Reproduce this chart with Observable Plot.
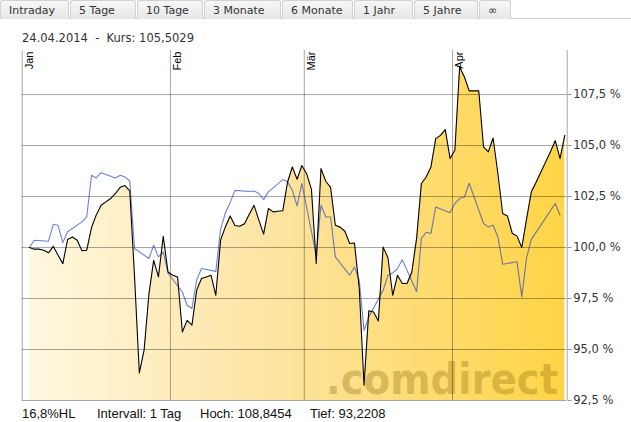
<!DOCTYPE html>
<html><head><meta charset="utf-8">
<script src="https://cdn.jsdelivr.net/npm/d3@7"></script>
<script src="https://cdn.jsdelivr.net/npm/@observablehq/plot@0.6"></script>
<style>
body{margin:0;width:631px;height:422px;overflow:hidden;background:#fff;position:relative;font-family:"DejaVu Sans",Verdana,sans-serif}
#tabline{position:absolute;left:0;top:18px;width:631px;height:1px;background:#cfcfcf}
.tab{position:absolute;top:0;height:19px;line-height:19px;font-size:11px;color:#333;padding-left:8px;box-sizing:border-box;background:linear-gradient(#f7f7f7,#e6e6e6);border:1px solid #d2d2d2;border-bottom:none;border-radius:3px 3px 0 0}
#head{position:absolute;left:22px;top:31px;font-size:11.5px;color:#333;white-space:pre}
#foot{position:absolute;top:406px;left:0;font-family:"Liberation Sans",Arial,sans-serif;font-size:13px;color:#111}
#foot span{position:absolute;white-space:nowrap}
#chart{position:absolute;left:0;top:44px}
</style>
</head><body>
<div id="tabline"></div>
<div id="tabs"></div>
<div id="head"></div>
<div id="chart"></div>
<div id="foot"></div>
<script>
// ---- data ----
const tabLabels = ["Intraday", "5 Tage", "10 Tage", "3 Monate", "6 Monate", "1 Jahr", "5 Jahre", "\u221e"];
const headerText = "24.04.2014  -  Kurs: 105,5029";
const footerTexts = ["16,8%HL", "Intervall: 1 Tag", "Hoch: 108,8454", "Tief: 93,2208"];

// fund (black line + area), one value per calendar day starting 2014-01-02
const fundStart = "2014-01-02";
const fundJan = [100.00, 99.92, 99.92, 99.87, 99.74, 100.06, 99.62, 99.21, 100.39, 100.52, 100.36, 99.84, 99.87, 100.98, 101.6, 102.07, 102.24, 102.4, 102.65, 102.95, 103.04, 102.78, 98.56, 93.85, 94.97, 97.70, 99.37, 98.56, 100.55, 98.80];
const fundFeb = [98.64, 98.56, 95.86, 96.43, 96.19, 97.91, 98.48, 98.56, 98.64, 97.66, 100.36, 101.01, 101.55, 101.08, 101.04, 101.17, 101.63, 102.07, 101.34, 100.66, 101.91, 101.75, 101.78, 101.80, 103.20, 103.95, 103.35, 104.02];
const fundMar = [103.62, 102.85, 99.22, 103.87, 103.25, 102.95, 101.09, 101.00, 100.80, 100.20, 100.22, 98.00, 93.25, 96.90, 96.84, 96.40, 100.02, 99.50, 97.66, 98.64, 98.24, 98.24, 98.80, 100.45, 103.14, 103.46, 103.95, 105.34, 105.50, 105.78, 104.36];
const fundApr = [104.77, 108.85, 108.36, 107.68, 107.68, 107.68, 104.93, 104.69, 105.37, 103.63, 101.67, 101.55, 100.70, 100.56, 100.00, 101.40, 102.73, 103.20, 103.70, 104.20, 104.70, 105.24, 104.36, 105.50];

// benchmark (blue line), trading days
const benchDates = ["2014-01-02","2014-01-03","2014-01-06","2014-01-07","2014-01-08","2014-01-09","2014-01-10","2014-01-13","2014-01-14","2014-01-15","2014-01-16","2014-01-17","2014-01-20","2014-01-21","2014-01-22","2014-01-23","2014-01-24","2014-01-27","2014-01-28","2014-01-29","2014-01-30","2014-01-31",
"2014-02-03","2014-02-04","2014-02-05","2014-02-06","2014-02-07","2014-02-10","2014-02-11","2014-02-12","2014-02-13","2014-02-14","2014-02-17","2014-02-18","2014-02-19","2014-02-20","2014-02-21","2014-02-24","2014-02-25","2014-02-26","2014-02-27","2014-02-28",
"2014-03-03","2014-03-04","2014-03-05","2014-03-06","2014-03-07","2014-03-10","2014-03-11","2014-03-12","2014-03-13","2014-03-14","2014-03-17","2014-03-18","2014-03-19","2014-03-20","2014-03-21","2014-03-24","2014-03-25","2014-03-26","2014-03-27","2014-03-28","2014-03-31",
"2014-04-01","2014-04-02","2014-04-03","2014-04-04","2014-04-07","2014-04-08","2014-04-09","2014-04-10","2014-04-11","2014-04-14","2014-04-15","2014-04-16","2014-04-17","2014-04-22","2014-04-23"];
const benchValues = [100.00, 100.36, 100.31, 101.14, 101.09, 100.24, 100.77, 101.26, 101.50, 103.54, 103.41, 103.67, 103.41, 103.54, 103.46, 103.25, 99.95, 99.46, 100.11, 99.54, 99.78, 98.74,
97.82, 97.17, 97.01, 98.40, 98.97, 98.83, 100.90, 101.70, 102.20, 102.80, 102.75, 102.77, 102.65, 102.35, 102.73, 103.33, 103.22, 102.81, 102.04, 103.14,
99.62, 102.07, 101.50, 101.50, 99.54, 98.64, 99.05, 98.40, 95.93, 96.60, 97.90, 98.64, 98.75, 98.97, 99.40, 97.83, 100.45, 100.75, 100.69, 101.99, 101.70,
102.16, 102.40, 102.48, 103.15, 101.18, 101.01, 101.09, 100.52, 99.18, 99.30, 97.58, 99.50, 100.40, 102.16, 101.58];

const monthStarts = ["2014-01-01", "2014-02-01", "2014-03-01", "2014-04-01"];
const monthLabels = ["Jan", "Feb", "M\u00e4r", "Apr"];
const yTicks = [92.5, 95, 97.5, 100, 102.5, 105, 107.5];
const yDomain = [92.5, 109.66];
const xDomain = ["2014-01-01", "2014-04-25"];
const watermark = [".comdirect"];

// ---- page text ----
const tabPos = [[0,69],[70,66],[137,66],[204,77],[282,71],[354,59],[414,64],[479,32]];
const tabs = document.getElementById("tabs");
tabLabels.forEach((t,i) => {
  const d = document.createElement("div");
  d.className = "tab"; d.textContent = t;
  d.style.left = tabPos[i][0] + "px"; d.style.width = tabPos[i][1] + "px";
  tabs.appendChild(d);
});
document.getElementById("head").textContent = headerText;
const footX = [22, 97, 200, 310];
const foot = document.getElementById("foot");
footerTexts.forEach((t,i) => {
  const s = document.createElement("span");
  s.textContent = t; s.style.left = footX[i] + "px";
  foot.appendChild(s);
});

// ---- chart ----
const utc0 = s => new Date(s + "T00:00:00Z");
const noon = s => new Date(s + "T12:00:00Z");
const fundValues = [...fundJan, ...fundFeb, ...fundMar, ...fundApr];
const fund = fundValues.map((v, i) => ({date: d3.utcDay.offset(noon(fundStart), i), value: v}));
const bench = benchDates.map((d, i) => ({date: noon(d), value: benchValues[i]}));
const months = monthStarts.map((d, i) => ({date: utc0(d), label: monthLabels[i]}));
const xDom = xDomain.map(utc0);

const chart = Plot.plot({
  width: 631, height: 362,
  marginLeft: 21.7, marginRight: 64.3, marginTop: 6, marginBottom: 6,
  style: {fontFamily: "'DejaVu Sans', Verdana, sans-serif", fontSize: "11.5px", background: "transparent", overflow: "visible"},
  x: {type: "utc", domain: xDom, axis: null},
  y: {domain: yDomain, axis: null, label: null},
  marks: [
    Plot.areaY(fund, {x: "date", y1: yDomain[0], y2: "value", fill: "url(#goldgrad)"}),
    Plot.text(watermark, {frameAnchor: "bottom-right", text: d => d, textAnchor: "end", lineAnchor: "bottom", dx: -9, dy: -7, fontSize: 43, fontWeight: "bold", fontFamily: "'DejaVu Sans Condensed', 'DejaVu Sans', sans-serif", letterSpacing: "-4.2px", fill: "#7a5c00", fillOpacity: 0.3}),
    Plot.gridY(yTicks, {stroke: "#000", strokeOpacity: 0.35}),
    Plot.ruleX(months, {x: "date", stroke: "#000", strokeOpacity: 0.35}),
    Plot.ruleX([xDom[1]], {stroke: "#000", strokeOpacity: 0.35}),
    Plot.axisY(yTicks, {anchor: "right", label: null, tickSize: 4, tickPadding: 2, stroke: "#999", fill: "#333", fontSize: 11.5, tickFormat: d => d.toFixed(1).replace(".", ",") + " %"}),
    Plot.lineY(bench, {x: "date", y: "value", stroke: "#1f3fbf", strokeOpacity: 0.65, strokeWidth: 1.1}),
    Plot.lineY(fund, {x: "date", y: "value", stroke: "#000", strokeWidth: 1.1}),
    Plot.text(months, {x: "date", frameAnchor: "top", text: "label", rotate: -90, textAnchor: "end", lineAnchor: "top", dx: 3, dy: 1, fontFamily: "'Liberation Sans', Arial, sans-serif", fontSize: 11, fill: "#000"})
  ]
});
d3.select(chart).insert("defs", ":first-child").html(
  '<linearGradient id="goldgrad" x1="0" x2="1" y1="0" y2="0">' +
  '<stop offset="0" stop-color="#fff7e0"/><stop offset="0.45" stop-color="#fde4a2"/><stop offset="1" stop-color="#ffd445"/>' +
  '</linearGradient>');
document.getElementById("chart").appendChild(chart);
</script>
</body></html>
